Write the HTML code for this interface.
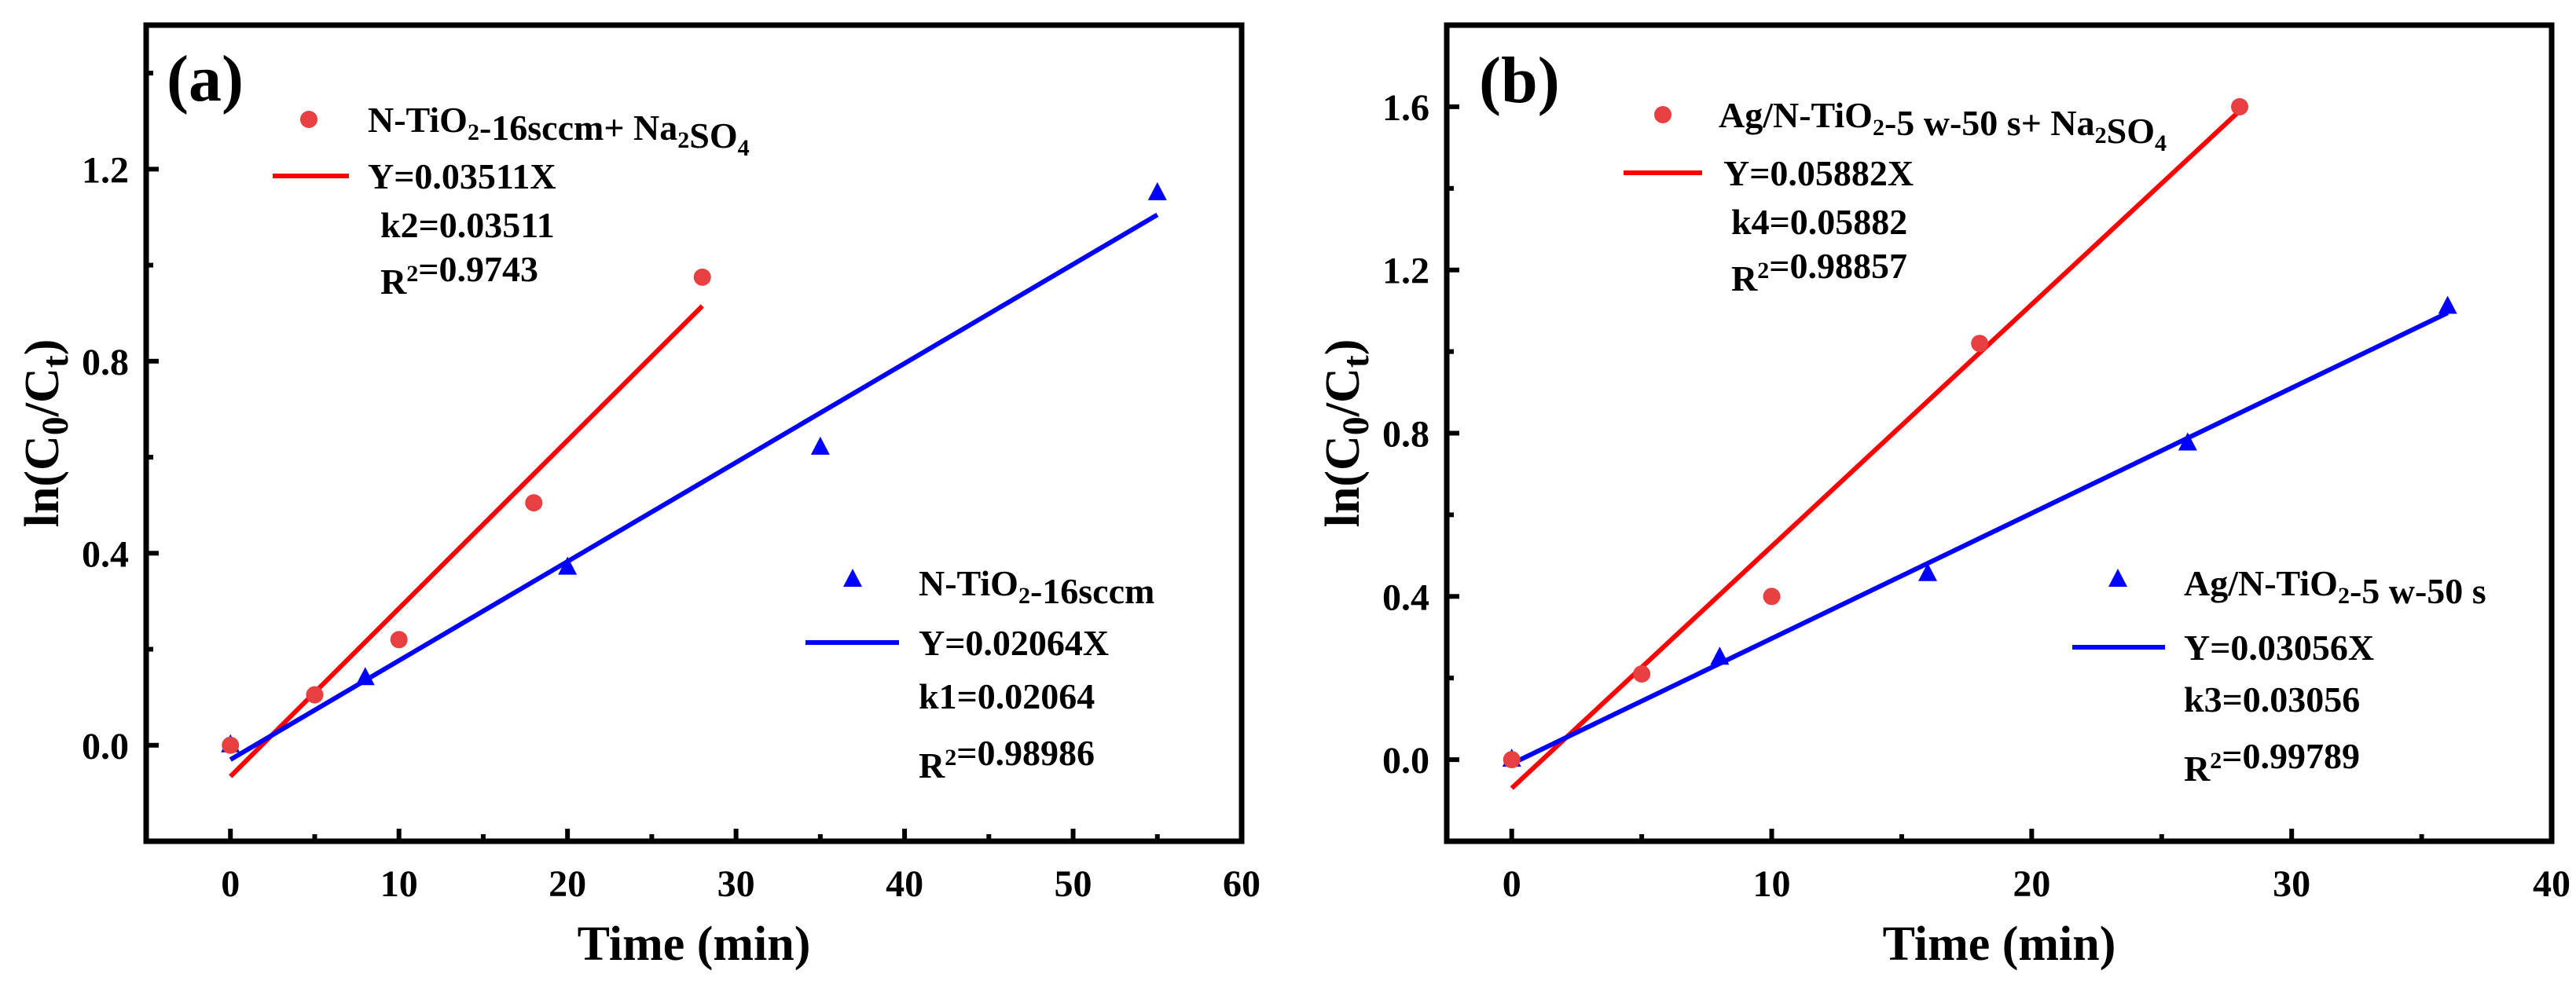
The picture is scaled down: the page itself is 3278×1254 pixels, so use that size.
<!DOCTYPE html>
<html><head><meta charset="utf-8"><style>
html,body{margin:0;padding:0;background:#fff;}
svg{display:block;font-family:"Liberation Serif","Times New Roman",serif;font-weight:bold;}
</style></head><body>
<svg id="chart" width="3278" height="1254" viewBox="0 0 3278 1254" xmlns="http://www.w3.org/2000/svg">
<rect width="3278" height="1254" fill="#fff"/>
</svg>
<script>
// Panel (a) data
const aRedX = [0, 5, 10, 18, 28];
const aRedY = [0, 0.105, 0.22, 0.505, 0.975];
const aBlueX = [0, 8, 20, 35, 55];
const aBlueY = [0, 0.14, 0.37, 0.62, 1.15];
const aRedFitX = [0, 28];
const aRedFitY = [-0.065, 0.915];
const aBlueFitX = [0, 55];
const aBlueFitY = [-0.03, 1.105];
const aXTicks = [0, 10, 20, 30, 40, 50, 60];
const aYTicks = [0.0, 0.4, 0.8, 1.2];
// Panel (b) data
const bRedX = [0, 5, 10, 18, 28];
const bRedY = [0, 0.21, 0.40, 1.02, 1.60];
const bBlueX = [0, 8, 16, 26, 36];
const bBlueY = [0, 0.25, 0.455, 0.775, 1.11];
const bRedFitX = [0, 28];
const bRedFitY = [-0.07, 1.59];
const bBlueFitX = [0, 36];
const bBlueFitY = [-0.01, 1.095];
const bXTicks = [0, 10, 20, 30, 40];
const bYTicks = [0.0, 0.4, 0.8, 1.2, 1.6];

const NS = "http://www.w3.org/2000/svg";
const svg = document.getElementById('chart');
function mk(tag, attrs, parent){
  const e = document.createElementNS(NS, tag);
  for (const k in attrs) e.setAttribute(k, attrs[k]);
  (parent||svg).appendChild(e);
  return e;
}
function panel(cfg){
  const g = mk('g', {});
  
  
  const sx = v => cfg.x0 + (v - cfg.xmin) / (cfg.xmax - cfg.xmin) * (cfg.x1 - cfg.x0);
  const sy = v => cfg.y1 - (v - cfg.ymin) / (cfg.ymax - cfg.ymin) * (cfg.y1 - cfg.y0);
  // frame
  const fr = mk('rect', {x:cfg.x0, y:cfg.y0, width:cfg.x1-cfg.x0, height:cfg.y1-cfg.y0, fill:'none', stroke:'#000', 'stroke-width':7}, g);
  
  
  // x ticks
  for (let v = cfg.xTicks[0]; v <= cfg.xTicks[cfg.xTicks.length-1] + 1e-9; v += cfg.xMinor) {
    const major = cfg.xTicks.some(t => Math.abs(t - v) < 1e-9);
    mk('line', {x1:sx(v), x2:sx(v), y1:cfg.y1, y2:cfg.y1-(major?16:9), stroke:'#000', 'stroke-width':6}, g);
  }
  cfg.xTicks.forEach(v => {
    const t = mk('text', {x:sx(v), y:cfg.y1+70, 'text-anchor':'middle', 'font-size':48}, g);
    t.textContent = String(v);
    
    
  });
  for (let v = cfg.ymin; v <= cfg.ymax + 1e-9; v += 0.2) {
    const major = cfg.yTicks.some(t => Math.abs(t - v) < 1e-9);
    if (v - cfg.ymin < 1e-9 || cfg.ymax - v < 1e-9) continue;
    mk('line', {x1:cfg.x0, x2:cfg.x0+(major?16:9), y1:sy(v), y2:sy(v), stroke:'#000', 'stroke-width':6}, g);
  }
  cfg.yTicks.forEach(v => {
    const t = mk('text', {x:cfg.x0-22, y:sy(v)+17, 'text-anchor':'end', 'font-size':48}, g);
    t.textContent = v.toFixed(1);
    
    
  });
  // axis titles
  const xt = mk('text', {x:(cfg.x0+cfg.x1)/2, y:1222, 'text-anchor':'middle', 'font-size':62}, g);
  xt.textContent = 'Time (min)';
  
  
  const yt = mk('text', {x:0, y:0, 'text-anchor':'middle', 'font-size':62, transform:`translate(${cfg.x0-112},${(cfg.y0+cfg.y1)/2}) rotate(-90)`}, g);
  yt.innerHTML = 'ln(C<tspan font-size="48" dy="12">0</tspan><tspan dy="-12">/C</tspan><tspan font-size="48" dy="12">t</tspan><tspan dy="-12">)</tspan>';
  
  
  // panel label
  const pl = mk('text', {x:cfg.labX, y:cfg.labY, 'font-size':84}, g);
  pl.textContent = cfg.label;
  
  
  // fit lines
  const rl = mk('line', {x1:sx(cfg.rfx[0]), y1:sy(cfg.rfy[0]), x2:sx(cfg.rfx[1]), y2:sy(cfg.rfy[1]), stroke:'#ff0000', 'stroke-width':6}, g);
  
  
  const bl = mk('line', {x1:sx(cfg.bfx[0]), y1:sy(cfg.bfy[0]), x2:sx(cfg.bfx[1]), y2:sy(cfg.bfy[1]), stroke:'#0000ff', 'stroke-width':6}, g);
  
  
  // points
  cfg.bx.forEach((x, i) => {
    const cx = sx(x), cy = sy(cfg.by[i]);
    const p = mk('polygon', {points:`${cx},${cy-14} ${cx-12},${cy+9} ${cx+12},${cy+9}`, fill:'#0000ff'}, g);
    
    
  });
  cfg.rx.forEach((x, i) => {
    const c = mk('circle', {cx:sx(x), cy:sy(cfg.ry[i]), r:11, fill:'#e84040'}, g);
    
    
  });
  // legends
  const L = cfg.leg;
  const lc = mk('circle', {cx:L.rcx, cy:L.rcy, r:11, fill:'#e84040'}, g);
  
  
  const ll = mk('line', {x1:L.rl0, x2:L.rl1, y1:L.rly, y2:L.rly, stroke:'#ff0000', 'stroke-width':6}, g);
  
  
  const tri = mk('polygon', {points:`${L.btx},${L.bty-14} ${L.btx-12},${L.bty+9} ${L.btx+12},${L.bty+9}`, fill:'#0000ff'}, g);
  
  
  const bll = mk('line', {x1:L.bl0, x2:L.bl1, y1:L.bly, y2:L.bly, stroke:'#0000ff', 'stroke-width':6}, g);
  
  
  L.texts.forEach(tx => {
    const t = mk('text', {x:tx[0], y:tx[1]+16, 'font-size':46}, g);
    t.innerHTML = tx[2];
    
    
  });
}
const sub = s => `<tspan font-size="30" dy="10">${s}</tspan><tspan dy="-10"></tspan>`;
const sup = s => `<tspan font-size="30" dy="-16">${s}</tspan><tspan dy="16"></tspan>`;
panel({name:'panel-a', x0:186, x1:1580, y0:32, y1:1071, xmin:-5, xmax:60, ymin:-0.2, ymax:1.5,
  xTicks:aXTicks, xMinor:5, yTicks:aYTicks, label:'(a)', labX:212, labY:128,
  rx:aRedX, ry:aRedY, bx:aBlueX, by:aBlueY, rfx:aRedFitX, rfy:aRedFitY, bfx:aBlueFitX, bfy:aBlueFitY,
  leg:{rcx:393, rcy:152, rl0:347, rl1:444, rly:224, btx:1085, bty:738, bl0:1025, bl1:1144, bly:818,
    texts:[[468,152,'N-TiO'+sub('2')+'-16sccm+ Na'+sub('2')+'SO'+sub('4')],[468,224,'Y=0.03511X'],[484,286,'k2=0.03511'],[484,358,'R'+sup('2')+'=0.9743'],
           [1169,742,'N-TiO'+sub('2')+'-16sccm'],[1169,818,'Y=0.02064X'],[1169,886,'k1=0.02064'],[1169,974,'R'+sup('2')+'=0.98986']]}
});
panel({name:'panel-b', x0:1841, x1:3247, y0:32, y1:1071, xmin:-2.5, xmax:40, ymin:-0.2, ymax:1.8,
  xTicks:bXTicks, xMinor:5, yTicks:bYTicks, label:'(b)', labX:1882, labY:130,
  rx:bRedX, ry:bRedY, bx:bBlueX, by:bBlueY, rfx:bRedFitX, rfy:bRedFitY, bfx:bBlueFitX, bfy:bBlueFitY,
  leg:{rcx:2116, rcy:146, rl0:2066, rl1:2166, rly:220, btx:2695, bty:738, bl0:2637, bl1:2755, bly:824,
    texts:[[2187,146,'Ag/N-TiO'+sub('2')+'-5 w-50 s+ Na'+sub('2')+'SO'+sub('4')],[2193,220,'Y=0.05882X'],[2203,282,'k4=0.05882'],[2203,354,'R'+sup('2')+'=0.98857'],
           [2779,742,'Ag/N-TiO'+sub('2')+'-5 w-50 s'],[2779,824,'Y=0.03056X'],[2779,890,'k3=0.03056'],[2779,978,'R'+sup('2')+'=0.99789']]}
});
</script>
</body></html>
